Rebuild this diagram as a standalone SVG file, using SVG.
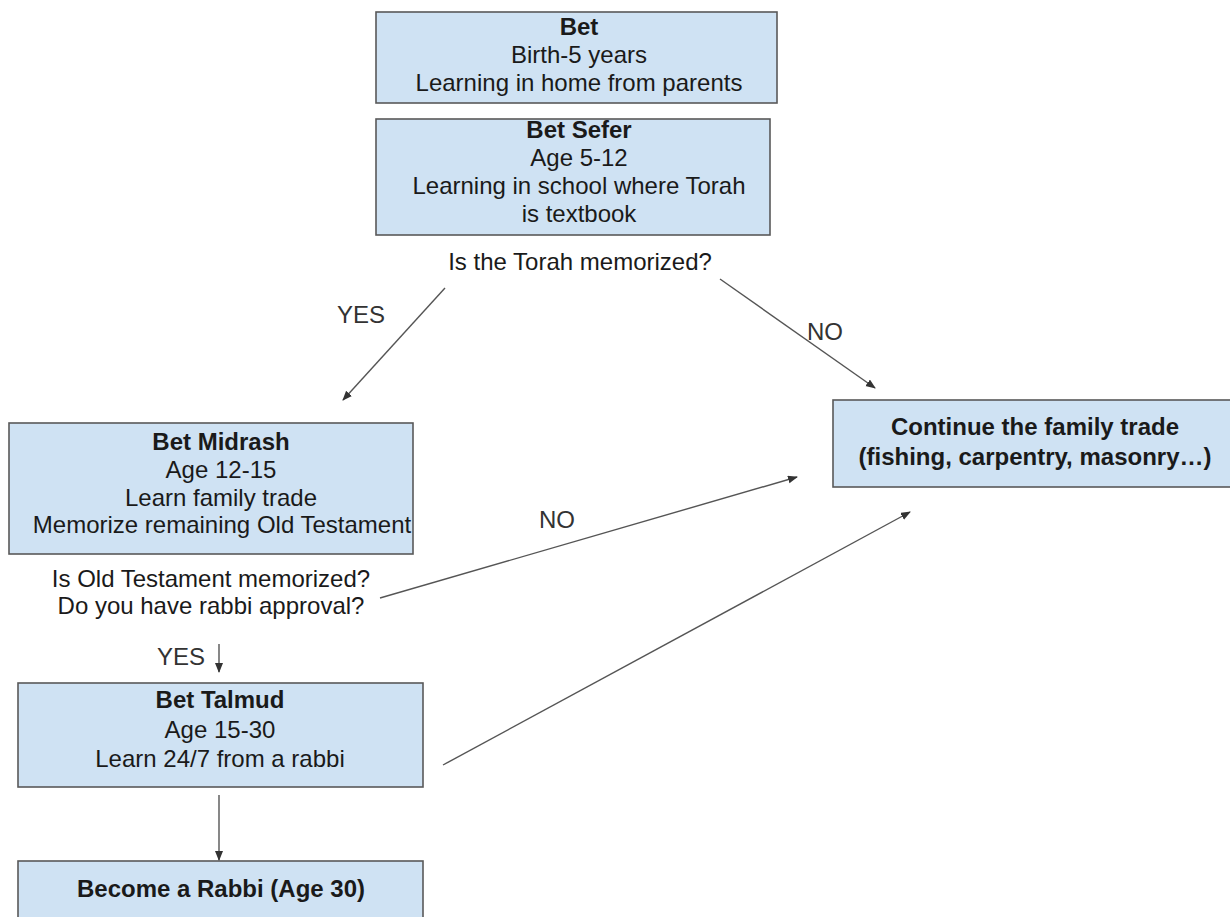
<svg xmlns="http://www.w3.org/2000/svg" width="1230" height="917" viewBox="0 0 1230 917">
<style>
.box{fill:#cfe2f3;stroke:#595959;stroke-width:1.6}
text{font-family:"Liberation Sans",Arial,sans-serif;font-size:24px;fill:#1a1a1a;text-anchor:middle}
.b{font-weight:bold}
.lbl{fill:#333}
.ln{stroke:#555;stroke-width:1.4;fill:none;marker-end:url(#ah)}
</style>
<defs>
<marker id="ah" markerUnits="userSpaceOnUse" markerWidth="12" markerHeight="10" refX="9" refY="4" orient="auto">
<path d="M0,0 L10,4 L0,8 Z" fill="#333"/>
</marker>
<clipPath id="c3"><rect x="9" y="423" width="403" height="131"/></clipPath>
</defs>
<rect width="1230" height="917" fill="#fff"/>
<g id="bet">
<rect class="box" x="376" y="12" width="401" height="91"/>
<text class="b" x="579" y="35">Bet</text>
<text x="579" y="63">Birth-5 years</text>
<text x="579" y="91">Learning in home from parents</text>
</g>
<g id="bet-sefer">
<rect class="box" x="376" y="119" width="394" height="116"/>
<text class="b" x="579" y="138">Bet Sefer</text>
<text x="579" y="166">Age 5-12</text>
<text x="579" y="194">Learning in school where Torah</text>
<text x="579" y="222">is textbook</text>
</g>
<g id="q1">
<text x="580" y="270">Is the Torah memorized?</text>
</g>
<g id="bet-midrash">
<rect class="box" x="9" y="423" width="404" height="131"/>
<g clip-path="url(#c3)">
<text class="b" x="221" y="450">Bet Midrash</text>
<text x="221" y="478">Age 12-15</text>
<text x="221" y="506">Learn family trade</text>
<text x="222" y="533">Memorize remaining Old Testament</text>
</g>
</g>
<g id="q2">
<text x="211" y="587">Is Old Testament memorized?</text>
<text x="211" y="614">Do you have rabbi approval?</text>
</g>
<g id="bet-talmud">
<rect class="box" x="18" y="683" width="405" height="104"/>
<text class="b" x="220" y="708">Bet Talmud</text>
<text x="220" y="738">Age 15-30</text>
<text x="220" y="767">Learn 24/7 from a rabbi</text>
</g>
<g id="rabbi">
<rect class="box" x="18" y="861" width="405" height="80"/>
<text class="b" x="221" y="897">Become a Rabbi (Age 30)</text>
</g>
<g id="trade">
<rect class="box" x="833" y="400" width="404" height="87"/>
<text class="b" x="1035" y="435">Continue the family trade</text>
<text class="b" x="1035" y="465">(fishing, carpentry, masonry…)</text>
</g>
<g id="connectors">
<line class="ln" x1="445" y1="288" x2="343" y2="400"/>
<line class="ln" x1="720" y1="279" x2="875" y2="388"/>
<line class="ln" x1="380" y1="598" x2="797" y2="477"/>
<line class="ln" x1="443" y1="765" x2="910" y2="512"/>
<line class="ln" x1="219" y1="644" x2="219" y2="672"/>
<line class="ln" x1="219" y1="795" x2="219" y2="860"/>
<text class="lbl" x="361" y="323">YES</text>
<text class="lbl" x="825" y="340">NO</text>
<text class="lbl" x="557" y="528">NO</text>
<text class="lbl" x="181" y="665">YES</text>
</g>
</svg>
